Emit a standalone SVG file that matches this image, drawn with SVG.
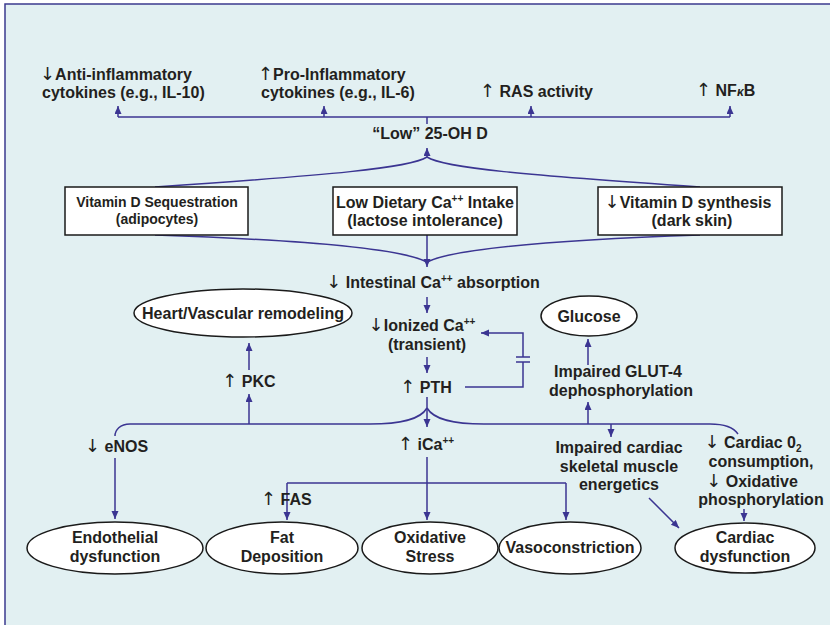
<svg xmlns="http://www.w3.org/2000/svg" width="830" height="625" viewBox="0 0 830 625">
<style>
text{font-family:"Liberation Sans",Arial,sans-serif;font-weight:bold;font-size:16px;fill:#231f20}
.sm{font-size:14px}
.c{text-anchor:middle}
.aw{font-family:"DejaVu Sans",sans-serif;font-weight:normal;font-size:18px}
.box{fill:#fff;stroke:#1a1a1a;stroke-width:1.5}
.ell{fill:#fff;stroke:#1a1a1a;stroke-width:1.5}
.ln{fill:none;stroke:#3b3592;stroke-width:1.5}
.ar{fill:none;stroke:#3b3592;stroke-width:1.5;marker-end:url(#ah)}
</style>
<defs>
<marker id="ah" markerUnits="userSpaceOnUse" markerWidth="8" markerHeight="8" refX="8" refY="3.5" orient="auto">
<path d="M0,0 L8,3.5 L0,7 z" fill="#3b3592"/>
</marker>
</defs>
<rect x="0" y="0" width="830" height="625" fill="#fff"/>
<rect x="5" y="4" width="840" height="640" fill="#e2f0f2" stroke="#3b3a8f" stroke-width="1.5"/>

<g id="connectors">
<path class="ln" d="M118,117 L730,117"/>
<path class="ar" d="M118,117 L118,106"/>
<path class="ar" d="M324,117 L324,106"/>
<path class="ar" d="M531,117 L531,106"/>
<path class="ar" d="M730,117 L730,106"/>
<path class="ln" d="M427,117 L427,124"/>
<path class="ar" d="M427,158 L427,148"/>
<path class="ln" d="M427,157 C410,168 330,175 155,187"/>
<path class="ln" d="M427,157 C444,168 524,175 700,187"/>
<path class="ln" d="M155,235 C300,240 400,248 427,262"/>
<path class="ln" d="M700,235 C555,240 455,248 427,262"/>
<path class="ar" d="M427,235 L427,267"/>
<path class="ar" d="M427,297 L427,313"/>
<path class="ar" d="M427,357 L427,373"/>
<path class="ln" d="M465,387 L523,387 L523,362"/>
<path class="ln" d="M516,362 L530,362 M516,357 L530,357"/>
<path class="ar" d="M523,357 L523,333 L481,333"/>
<path class="ar" d="M427,397 L427,427"/>
<path class="ln" d="M427,408 C420,420 400,424 370,424 L130,424 C120,424 115,430 115,436"/>
<path class="ln" d="M427,408 C434,420 454,424 484,424 L710,424 C726,424 734,428 738,434"/>
<path class="ar" d="M249,424 L249,394"/>
<path class="ar" d="M249,370 L249,343"/>
<path class="ar" d="M588,424 L588,402"/>
<path class="ar" d="M588,365 L588,339"/>
<path class="ar" d="M611,424 L611,437"/>
<path class="ar" d="M115,458 L115,519"/>
<path class="ar" d="M427,457 L427,520"/>
<path class="ln" d="M287,483 L566,483"/>
<path class="ar" d="M287,483 L287,520"/>
<path class="ar" d="M566,483 L566,520"/>
<path class="ar" d="M649,498 L679,528"/>
<path class="ar" d="M744,509 L744,521"/>
</g>

<g id="anti-inflammatory">
<text x="40" y="80"><tspan class="aw">↓</tspan>Anti-inflammatory</text>
<text x="42" y="98">cytokines (e.g., IL-10)</text>
</g>
<g id="pro-inflammatory">
<text x="258" y="80"><tspan class="aw">↑</tspan>Pro-Inflammatory</text>
<text x="261" y="98">cytokines (e.g., IL-6)</text>
</g>
<g id="ras"><text x="480" y="97"><tspan class="aw">↑</tspan> RAS activity</text></g>
<g id="nfkb"><text x="696" y="96"><tspan class="aw">↑</tspan> NF<tspan font-style="italic" font-size="12">κ</tspan>B</text></g>
<g id="low25oh"><text class="c" x="430" y="139">“Low” 25-OH D</text></g>

<g id="box-sequestration">
<rect class="box" x="65" y="187" width="183" height="48"/>
<text class="c sm" x="157" y="207">Vitamin D Sequestration</text>
<text class="c sm" x="157" y="224">(adipocytes)</text>
</g>
<g id="box-dietary">
<rect class="box" x="333" y="187" width="184" height="48"/>
<text class="c" x="425" y="208">Low Dietary Ca<tspan font-size="10" dy="-6">++</tspan><tspan dy="6"> Intake</tspan></text>
<text class="c" x="425" y="226">(lactose intolerance)</text>
</g>
<g id="box-synthesis">
<rect class="box" x="598" y="187" width="184" height="48"/>
<text class="c" x="688" y="208"><tspan class="aw">↓</tspan>Vitamin D synthesis</text>
<text class="c" x="692" y="226">(dark skin)</text>
</g>

<g id="intestinal"><text class="c" x="433" y="288"><tspan class="aw">↓</tspan> Intestinal Ca<tspan font-size="10" dy="-6">++</tspan><tspan dy="6"> absorption</tspan></text></g>
<g id="ionized">
<text class="c" x="422" y="331"><tspan class="aw">↓</tspan>Ionized Ca<tspan font-size="10" dy="-6">++</tspan></text>
<text class="c" x="427" y="350">(transient)</text>
</g>
<g id="pth"><text class="c" x="426" y="393"><tspan class="aw">↑</tspan> PTH</text></g>
<g id="pkc"><text class="c" x="249" y="387"><tspan class="aw">↑</tspan> PKC</text></g>
<g id="heart">
<ellipse class="ell" cx="243" cy="313" rx="109" ry="24"/>
<text class="c" x="243" y="319">Heart/Vascular remodeling</text>
</g>
<g id="glucose">
<ellipse class="ell" cx="589" cy="316" rx="48" ry="20"/>
<text class="c" x="589" y="322">Glucose</text>
</g>
<g id="glut4">
<text class="c" x="618" y="377">Impaired GLUT-4</text>
<text class="c" x="621" y="396">dephosphorylation</text>
</g>
<g id="enos"><text x="85" y="452"><tspan class="aw">↓</tspan> eNOS</text></g>
<g id="ica"><text class="c" x="426" y="450"><tspan class="aw">↑</tspan> iCa<tspan font-size="10" dy="-6">++</tspan></text></g>
<g id="energetics">
<text class="c" x="619" y="453">Impaired cardiac</text>
<text class="c" x="619" y="472">skeletal muscle</text>
<text class="c" x="619" y="490">energetics</text>
</g>
<g id="cardiac-o2">
<text class="c" x="753" y="448"><tspan class="aw">↓</tspan> Cardiac 0<tspan font-size="10" dy="4">2</tspan></text>
<text class="c" x="761" y="467">consumption,</text>
<text class="c" x="752" y="487"><tspan class="aw">↓</tspan> Oxidative</text>
<text class="c" x="761" y="505">phosphorylation</text>
</g>
<g id="fas"><text x="261" y="505"><tspan class="aw">↑</tspan> FAS</text></g>

<g id="endothelial">
<ellipse class="ell" cx="115" cy="548" rx="88" ry="26"/>
<text class="c" x="115" y="543">Endothelial</text>
<text class="c" x="115" y="562">dysfunction</text>
</g>
<g id="fat">
<ellipse class="ell" cx="282" cy="548" rx="76" ry="26"/>
<text class="c" x="282" y="543">Fat</text>
<text class="c" x="282" y="562">Deposition</text>
</g>
<g id="oxidative">
<ellipse class="ell" cx="430" cy="548" rx="68" ry="26"/>
<text class="c" x="430" y="543">Oxidative</text>
<text class="c" x="430" y="562">Stress</text>
</g>
<g id="vasoconstriction">
<ellipse class="ell" cx="570" cy="548" rx="71" ry="26"/>
<text class="c" x="570" y="553">Vasoconstriction</text>
</g>
<g id="cardiac-dysfunction">
<ellipse class="ell" cx="745" cy="548" rx="70" ry="25"/>
<text class="c" x="745" y="543">Cardiac</text>
<text class="c" x="745" y="562">dysfunction</text>
</g>
</svg>
